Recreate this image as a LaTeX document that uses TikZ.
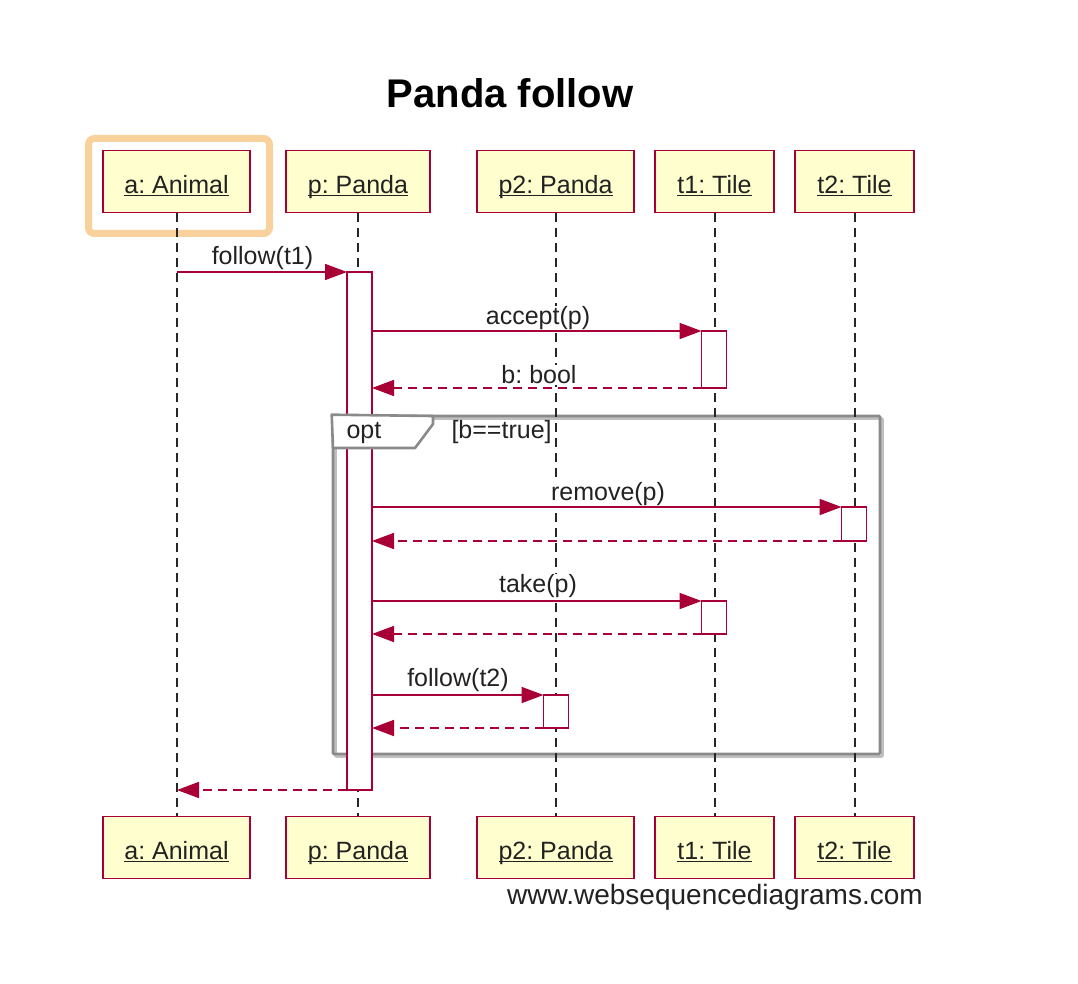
\documentclass[tikz,border=0pt]{standalone}
\usepackage{fontspec}
\setmainfont{Liberation Sans}
\usetikzlibrary{arrows.meta}
\definecolor{crim}{HTML}{A80036}
\definecolor{boxfill}{HTML}{FEFECE}
\definecolor{framegray}{HTML}{8A8A8A}
\definecolor{hl}{HTML}{F8D19C}
\definecolor{txt}{HTML}{222222}
\newcommand\ulab[1]{\underline{\raisebox{0pt}[\height][0pt]{#1}}}
\frenchspacing
\begin{document}
\begin{tikzpicture}[x=1pt,y=-1pt,
 part/.style={draw=crim, line width=1.9pt, fill=boxfill, minimum height=62pt, inner sep=0pt, text height=26pt, text depth=2pt, font=\fontsize{25}{28}\selectfont, text=txt},
 life/.style={dash pattern=on 9pt off 6pt, line width=1.8pt, black!85},
 act/.style={draw=crim, line width=1.9pt, fill=white, minimum width=25pt, inner sep=0pt, outer sep=0pt},
 msg/.style={crim, line width=1.8pt, -{Triangle[length=22pt,width=16pt]}},
 ret/.style={msg, dash pattern=on 9pt off 6pt},
 lbl/.style={font=\fontsize{25}{28}\selectfont, text=txt, inner sep=0.5pt, fill=white},
 hlbox/.style={draw=hl, line width=7pt, rounded corners=6pt, inner sep=0pt},
]
\useasboundingbox (0,0) rectangle (1078,984);

% title
\node[font=\fontsize{40}{44}\selectfont\bfseries, text=black] (title) at (510,93) {Panda follow};

% highlight
\node[hlbox, minimum width=181pt, minimum height=95pt] (hlA) at (179,186) {};

% opt frame (behind lifelines)
\draw[black!25, line width=2.6pt, rounded corners=1pt] (335.5,418.5) rectangle (882.5,756.5);
\node[draw=framegray, line width=2.6pt, minimum width=547pt, minimum height=338pt, inner sep=0pt, rounded corners=1pt] (optF) at (606.5,585) {};

% lifelines
\draw[life] (177,213) -- (177,817);
\draw[life] (358,213) -- (358,817);
\draw[life] (556,213) -- (556,817);
\draw[life] (715,213) -- (715,817);
\draw[life] (855,213) -- (855,817);

% participant boxes
\node[part, minimum width=147pt] (aT) at (176.5,181.5) {\ulab{a: Animal}};
\node[part, minimum width=144pt] (pT) at (358,181.5) {\ulab{p: Panda}};
\node[part, minimum width=157pt] (p2T) at (555.5,181.5) {\ulab{p2: Panda}};
\node[part, minimum width=119pt] (t1T) at (714.5,181.5) {\ulab{t1: Tile}};
\node[part, minimum width=119pt] (t2T) at (854.5,181.5) {\ulab{t2: Tile}};

\node[part, minimum width=147pt] (aB) at (176.5,847.5) {\ulab{a: Animal}};
\node[part, minimum width=144pt] (pB) at (358,847.5) {\ulab{p: Panda}};
\node[part, minimum width=157pt] (p2B) at (555.5,847.5) {\ulab{p2: Panda}};
\node[part, minimum width=119pt] (t1B) at (714.5,847.5) {\ulab{t1: Tile}};
\node[part, minimum width=119pt] (t2B) at (854.5,847.5) {\ulab{t2: Tile}};

% activations
\node[act, minimum height=518pt] (actP) at (359.5,531) {};
\node[act, minimum height=57pt] (actT1a) at (714,359.5) {};
\node[act, minimum height=34pt] (actT2) at (854,524) {};
\node[act, minimum height=33pt] (actT1b) at (714,617.5) {};
\node[act, minimum height=33pt] (actP2) at (556,711.5) {};

% opt tab
\draw[framegray, line width=2.6pt, fill=white, line join=round] (optF.north west) -- (433,416) -- (433,424) -- (415,448) -- (333,448) -- cycle;
\node[font=\fontsize{25}{28}\selectfont, text=txt, anchor=west] (optL) at (343,433) {opt};
\node[font=\fontsize{25}{28}\selectfont, text=txt, anchor=west] (guard) at (448,432) {[b==true]};

% messages
\coordinate (aM1) at (177,272);
\draw[msg] (aM1) -- (actP.north west);
\node[lbl] (l1) at (262.5,258) {follow(t1)};

\draw[msg] (actP.east |- actT1a.north) -- (actT1a.north west);
\node[lbl] (l2) at (538,318) {accept(p)};

\draw[ret] (actT1a.south west) -- (actP.east |- actT1a.south);
\node[lbl] (l3) at (539,375) {b: bool};

\draw[msg] (actP.east |- actT2.north) -- (actT2.north west);
\node[lbl] (l4) at (608,494) {remove(p)};
\draw[ret] (actT2.south west) -- (actP.east |- actT2.south);

\draw[msg] (actP.east |- actT1b.north) -- (actT1b.north west);
\node[lbl] (l5) at (538,586) {take(p)};
\draw[ret] (actT1b.south west) -- (actP.east |- actT1b.south);

\draw[msg] (actP.east |- actP2.north) -- (actP2.north west);
\node[lbl] (l6) at (458,680) {follow(t2)};
\draw[ret] (actP2.south west) -- (actP.east |- actP2.south);

\coordinate (aM2) at (177,790);
\draw[ret] (actP.south west) -- (aM2);

% footer
\node[font=\fontsize{28}{30}\selectfont, text=txt] (foot) at (715,897) {www.websequencediagrams.com};
\end{tikzpicture}
\end{document}
